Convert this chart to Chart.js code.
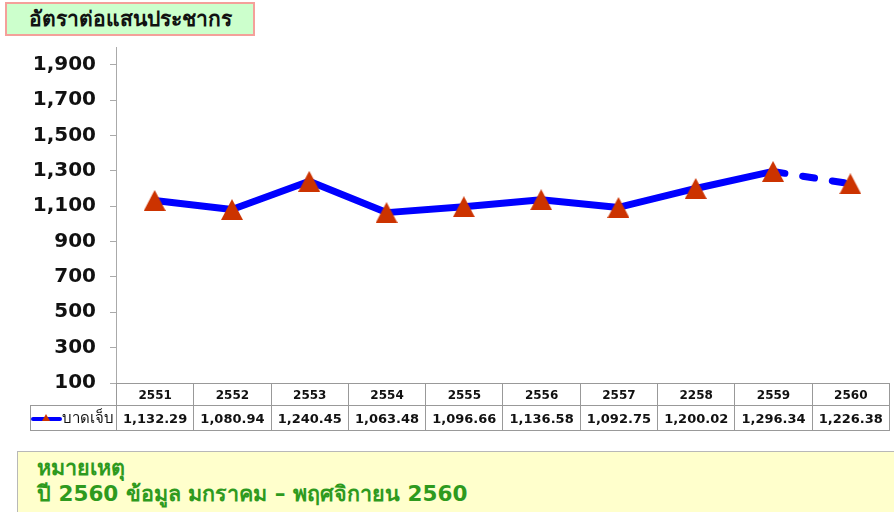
<!DOCTYPE html>
<html>
<head>
<meta charset="utf-8">
<script src="https://cdn.jsdelivr.net/npm/chart.js@4/dist/chart.umd.min.js"></script>
<style>
  html,body{margin:0;padding:0;background:#fff;}
  body{width:894px;height:512px;position:relative;overflow:hidden;font-family:"DejaVu Sans",Verdana,sans-serif;}
  #wrap{position:absolute;left:0;top:0;width:894px;height:512px;}
  #title{position:absolute;left:5px;top:2px;width:246px;height:30px;background:#ccffcc;border:2px solid #f4a09a;
    font-weight:bold;font-size:21px;line-height:30px;color:#111;text-align:center;box-sizing:content-box;white-space:nowrap;}
  #note{position:absolute;left:17px;top:451px;width:900px;height:70px;background:#ffffcc;border:1px solid #b8b8b8;
    color:#2e9a1e;font-weight:bold;font-size:21.5px;line-height:26px;padding:3px 0 0 19px;box-sizing:border-box;white-space:nowrap;}
  table{position:absolute;border-collapse:collapse;font-weight:bold;color:#111;}
  td{border:1px solid #999;text-align:center;padding:0;white-space:nowrap;overflow:hidden;}
  .hdr td{font-size:12px;height:21px;}
  .dat td{font-size:13px;height:24px;}
</style>
</head>
<body>
<div id="wrap"><canvas id="c" width="894" height="512"></canvas></div>
<div id="title">อัตราต่อแสนประชากร</div>
<div id="note">หมายเหตุ<br>ปี 2560 ข้อมูล มกราคม – พฤศจิกายน 2560</div>
<script>
const years = ["2551","2552","2553","2554","2555","2556","2557","2258","2559","2560"];
const injured = [1132.29,1080.94,1240.45,1063.48,1096.66,1136.58,1092.75,1200.02,1296.34,1226.38];
const yTicks = [100,300,500,700,900,1100,1300,1500,1700,1900];
const seriesName = "บาดเจ็บ";

const fmtTick = v => v.toLocaleString('en-US');
const fmtVal = v => v.toLocaleString('en-US',{minimumFractionDigits:2,maximumFractionDigits:2});

// triangle marker centred on its bounding box
const tri = document.createElement('canvas');
tri.width = 22; tri.height = 21;
(function(){
  const g = tri.getContext('2d');
  g.fillStyle = '#cc3300';
  g.beginPath(); g.moveTo(11, 0); g.lineTo(22, 21); g.lineTo(0, 21); g.closePath(); g.fill();
})();

const chart = new Chart(document.getElementById('c'), {
  type: 'line',
  data: {
    labels: years,
    datasets: [{
      label: seriesName,
      data: injured,
      borderColor: '#0000ff',
      borderWidth: 7,
      borderCapStyle: 'round',
      borderJoinStyle: 'round',
      pointStyle: tri,
      pointRadius: 11,
      pointHoverRadius: 11,
      tension: 0,
      segment: {
        borderDash: ctx => ctx.p1DataIndex === years.length - 1 ? [12, 18] : undefined
      }
    }]
  },
  options: {
    responsive: false,
    animation: false,
    events: [],
    layout: { autoPadding: false, padding: { left: 0, right: 5, top: 47, bottom: 129 } },
    plugins: { legend: { display: false }, tooltip: { enabled: false } },
    scales: {
      x: { display: false, offset: true },
      y: {
        min: 100, max: 2000,
        afterFit: s => { s.width = 116; },
        afterBuildTicks: s => { s.ticks = yTicks.map(v => ({ value: v })); },
        grid: { drawOnChartArea: false, drawTicks: true, tickLength: 6, color: '#aaaaaa', lineWidth: 1 },
        border: { display: true, color: '#aaaaaa', width: 1 },
        ticks: {
          padding: 14,
          color: '#111',
          font: { family: '"DejaVu Sans", Verdana, sans-serif', size: 20, weight: 'bold' },
          callback: v => fmtTick(v)
        }
      }
    }
  }
});

// data table aligned to the chart's x scale
(function buildTable(){
  const area = chart.chartArea;
  const n = years.length;
  const band = (area.right - area.left) / n;
  const tbl = document.createElement('table');
  const legendW = area.left - 30;
  tbl.style.left = '30px';
  tbl.style.top = Math.round(area.bottom) + 'px';
  const cg = document.createElement('colgroup');
  const c0 = document.createElement('col'); c0.style.width = legendW + 'px'; cg.appendChild(c0);
  for (let i = 0; i < n; i++) { const c = document.createElement('col'); c.style.width = band + 'px'; cg.appendChild(c); }
  tbl.appendChild(cg);
  tbl.style.tableLayout = 'fixed';
  tbl.style.width = (legendW + band * n) + 'px';
  const r1 = document.createElement('tr'); r1.className = 'hdr';
  const e = document.createElement('td'); e.style.border = 'none'; e.style.borderRight = '1px solid #999'; r1.appendChild(e);
  years.forEach(y => { const td = document.createElement('td'); td.textContent = y; r1.appendChild(td); });
  const r2 = document.createElement('tr'); r2.className = 'dat';
  const lg = document.createElement('td');
  lg.style.textAlign = 'left';
  lg.innerHTML = '<span style="display:inline-block;position:relative;width:31px;height:10px;vertical-align:middle;">' +
    '<span style="position:absolute;left:0;top:4px;width:31px;height:4px;background:#0000ff;border-radius:2px;"></span>' +
    '<span style="position:absolute;left:11px;top:1px;width:0;height:0;border-left:4px solid transparent;border-right:4px solid transparent;border-bottom:7px solid #cc3300;"></span>' +
    '</span><span style="font-weight:normal;font-size:15px;vertical-align:middle;">' + seriesName + '</span>';
  r2.appendChild(lg);
  injured.forEach(v => { const td = document.createElement('td'); td.textContent = fmtVal(v); r2.appendChild(td); });
  tbl.appendChild(r1); tbl.appendChild(r2);
  document.body.appendChild(tbl);
})();
</script>
</body>
</html>
